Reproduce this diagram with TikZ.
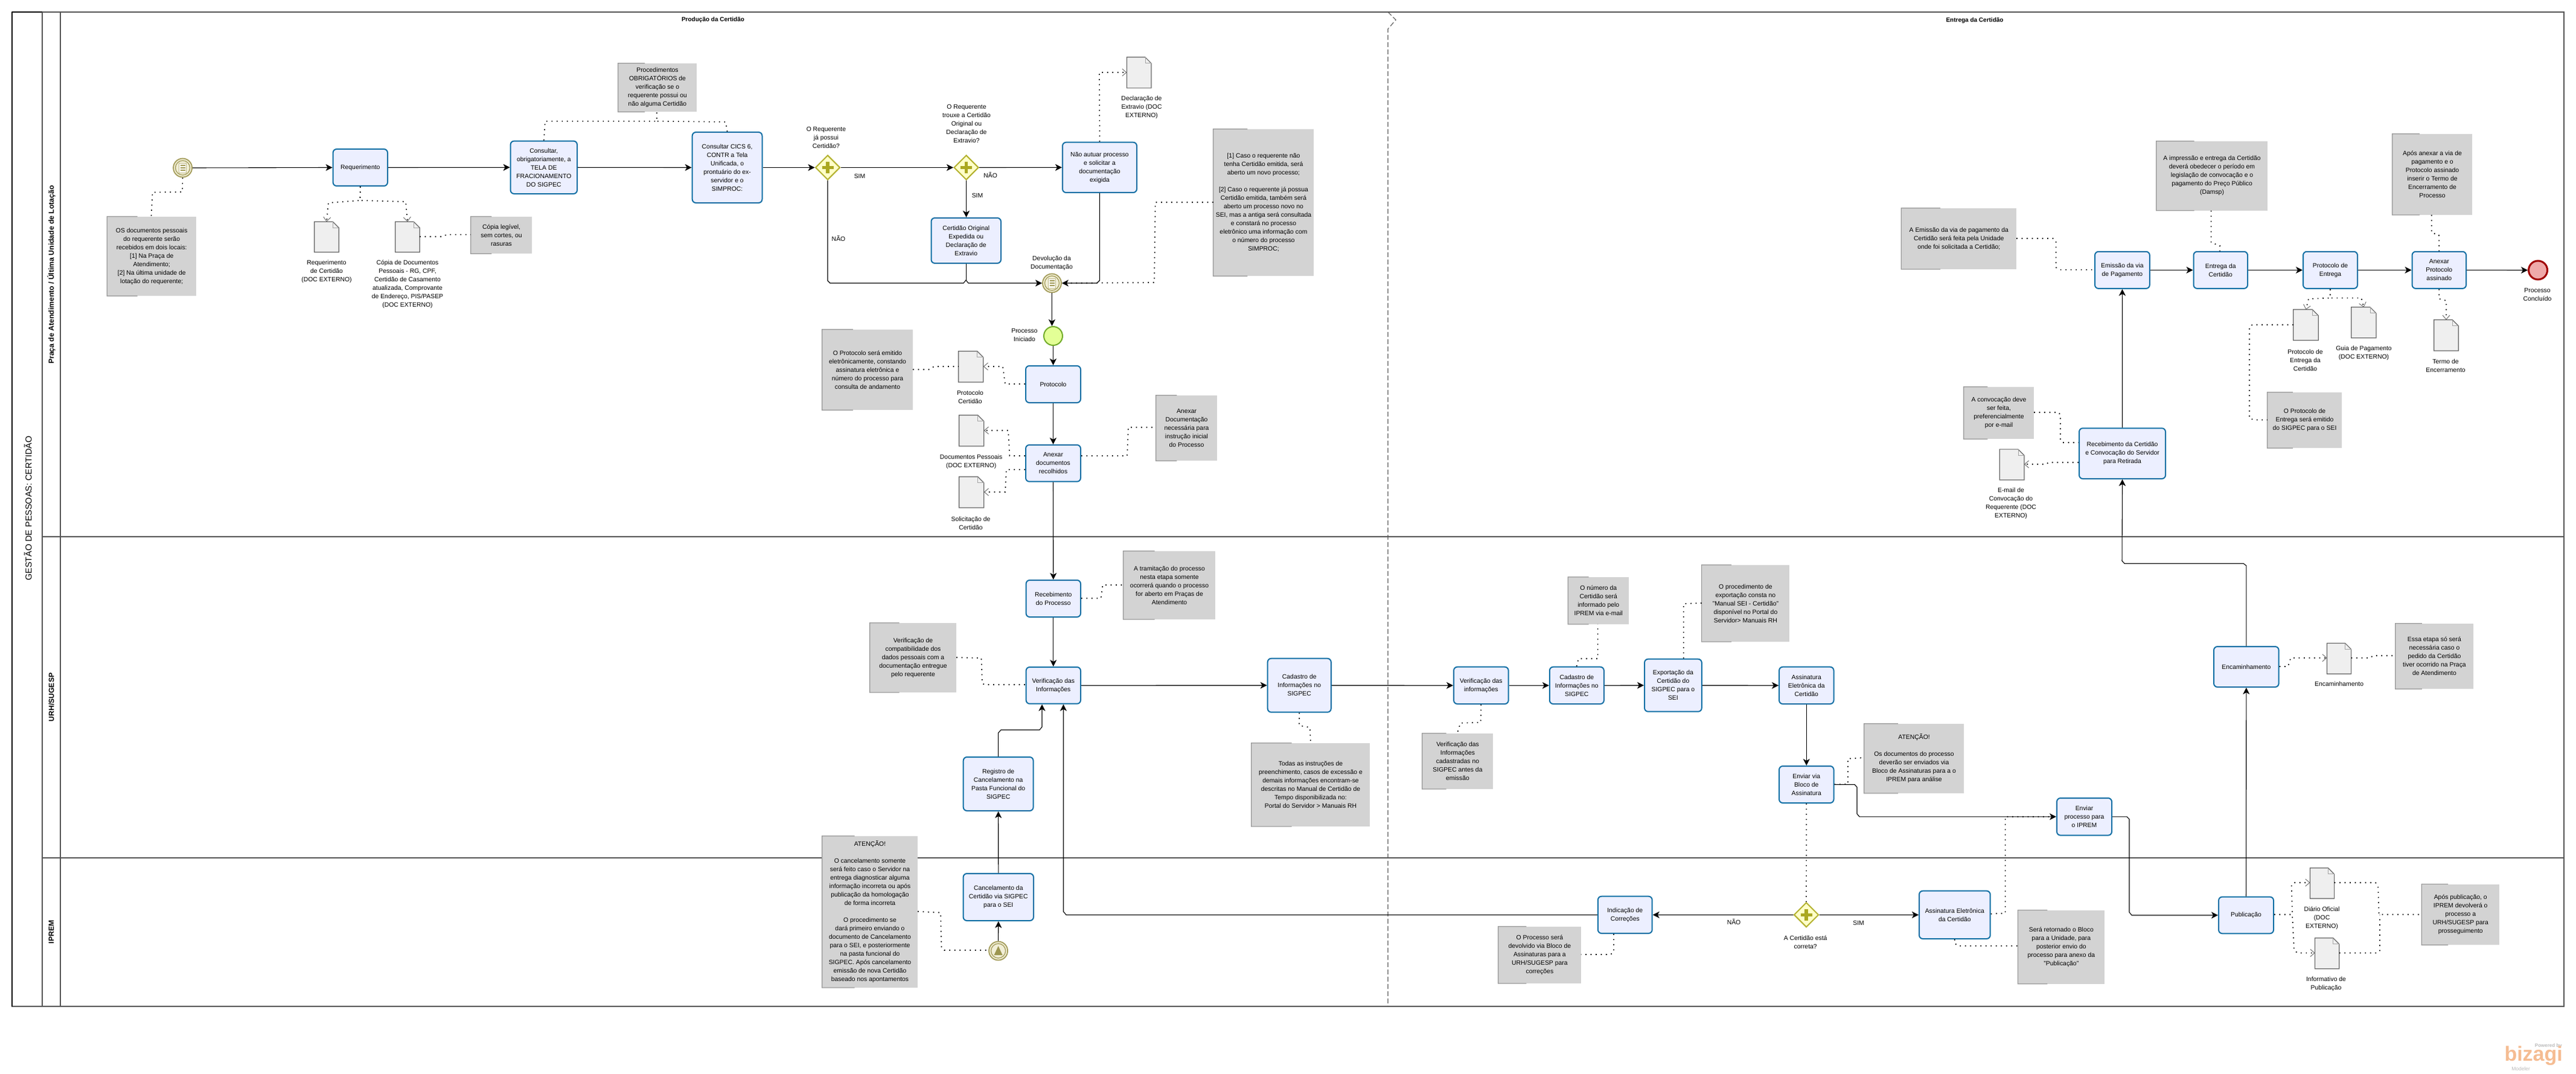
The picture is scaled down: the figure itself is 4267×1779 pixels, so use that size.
\documentclass[tikz,border=0pt]{standalone}
\usepackage{fontspec}
\setmainfont{Liberation Sans}
\usetikzlibrary{shapes.geometric,calc,arrows.meta}
\definecolor{taskfill}{HTML}{ECEFFF}
\definecolor{taskline}{HTML}{1270A5}
\definecolor{notefill}{HTML}{D3D3D3}
\definecolor{noteline}{HTML}{999999}
\definecolor{docfill}{HTML}{EFEFEF}
\definecolor{docline}{HTML}{666666}
\definecolor{gwfill}{HTML}{FFFFC8}
\definecolor{gwline}{HTML}{B3B12E}
\definecolor{gwplus}{HTML}{ABA821}
\definecolor{evfill}{HTML}{F1EED6}
\definecolor{evline}{HTML}{A39C5A}
\definecolor{evglyph}{HTML}{9C9650}
\definecolor{startfill}{HTML}{E3FF96}
\definecolor{startline}{HTML}{72AC2A}
\definecolor{endfill}{HTML}{EFA9A9}
\definecolor{endline}{HTML}{A00000}
\definecolor{frameline}{HTML}{555555}
\definecolor{bizorange}{HTML}{F5BC92}
\definecolor{bizgrey}{HTML}{BBBBBB}
\tikzset{
  base font/.style={font=\fontsize{10.4}{14}\selectfont,align=center,inner sep=0pt},
  taskbox/.style={base font,rectangle,rounded corners=6pt,draw=taskline,line width=2pt,fill=taskfill},
  notebox/.style={base font,rectangle,fill=notefill},
  bracket/.style={draw=noteline,line width=1.2pt},
  lbl/.style={base font},
  seq/.style={draw=black,line width=1.1pt,-{Stealth[length=11pt,width=11pt,inset=3pt]}},
  seqplain/.style={draw=black,line width=1.1pt},
  assoc/.style={draw=black,line width=1.7pt,dash pattern=on 1.7pt off 6.8pt},
  assocdoc/.style={assoc,-{Straight Barb[length=7pt,width=12pt,line width=0.9pt,color=docline]}},
  framing/.style={draw=frameline,line width=1.3pt},
  gwbox/.style={diamond,aspect=1,draw=gwline,line width=2pt,fill=gwfill,inner sep=0pt,minimum size=41pt},
  evbox/.style={circle,draw=evline,line width=1.8pt,fill=evfill,inner sep=0pt,minimum size=31pt},
}
\newcommand{\tk}[6]{\node[taskbox,minimum width={#4-#2},minimum height={#5-#3}] (#1) at ({(#2+#4)/2},{(#3+#5)/2}) {#6};}
\newcommand{\nt}[6]{\node[notebox,minimum width={#4-#2},minimum height={#5-#3}] (#1) at ({(#2+#4)/2},{(#3+#5)/2}) {#6};
  \draw[bracket] ($(#1.north west)!.34!(#1.north east)$) -- (#1.north west) -- (#1.south west) -- ($(#1.south west)!.34!(#1.south east)$);}
\newcommand{\dc}[5]{\node[minimum width={#4-#2},minimum height={#5-#3},inner sep=0pt] (#1) at ({(#2+#4)/2},{(#3+#5)/2}) {};
  \draw[draw=docline,fill=docfill,line width=1.2pt] (#1.north west) -- ([xshift=-10pt]#1.north east) -- ([yshift=-10pt]#1.north east) -- (#1.south east) -- (#1.south west) -- cycle;
  \draw[draw=docline!60,line width=.8pt] ([xshift=-10pt]#1.north east) -- ([xshift=-10pt,yshift=-10pt]#1.north east) -- ([yshift=-10pt]#1.north east);}
\newcommand{\lb}[4]{\node[lbl] (#1) at (#2,#3) {#4};}
\newcommand{\gw}[3]{\node[gwbox] (#1) at (#2,#3) {};
  \draw[gwplus,line width=5.5pt] ($(#1.center)+(-9.5,0)$) -- ($(#1.center)+(9.5,0)$);
  \draw[gwplus,line width=5.5pt] ($(#1.center)+(0,-9.5)$) -- ($(#1.center)+(0,9.5)$);}
\newcommand{\evring}[3]{\node[evbox] (#1) at (#2,#3) {};
  \draw[evline,line width=1.3pt] (#1.center) circle (12pt);}
\newcommand{\evdoc}[3]{\evring{#1}{#2}{#3}
  \draw[draw=evline!70,fill=white!70!evfill,line width=.8pt] ($(#1.center)+(-6,-8)$) rectangle ($(#1.center)+(6,8)$);
  \draw[evline,line width=1.2pt] ($(#1.center)+(-4,-4)$) -- ($(#1.center)+(4,-4)$) ($(#1.center)+(-4,0)$) -- ($(#1.center)+(4,0)$) ($(#1.center)+(-4,4)$) -- ($(#1.center)+(4,4)$);}
\begin{document}
\begin{tikzpicture}[x=1pt,y=-1pt]
\useasboundingbox (0,0) rectangle (4267,1779);
% --- pool, lanes, phases
\coordinate (frameTL) at (20,20);
\coordinate (frameBR) at (4247,1667);
\draw[framing] (frameTL) rectangle (frameBR);
\draw[black,line width=1.8pt] (20,20) -- (20,1667) (20,20) -- (70,20);
\draw[framing] (70,20) -- (70,1667);
\draw[draw=frameline,line width=1.1pt] (100,20) -- (100,1667);
\draw[framing] (70,889) -- (4247,889) (70,1421) -- (4247,1421);
\draw[draw=frameline,line width=1.1pt,dash pattern=on 8pt off 4pt] (2299,20) -- (2312,33) -- (2299,48) -- (2299,1667);
\node[font=\fontsize{14.4}{16}\selectfont,rotate=90,inner sep=0pt] (pooltitle) at (46,842) {GESTÃO DE PESSOAS: CERTIDÃO};
\node[font=\bfseries\fontsize{12.2}{14}\selectfont,rotate=90,inner sep=0pt] (lane1) at (85,455) {Praça de Atendimento / Última Unidade de Lotação};
\node[font=\bfseries\fontsize{12.2}{14}\selectfont,rotate=90,inner sep=0pt] (lane2) at (85,1155) {URH/SUGESP};
\node[font=\bfseries\fontsize{12.2}{14}\selectfont,rotate=90,inner sep=0pt] (lane3) at (85,1544) {IPREM};
\node[font=\bfseries\fontsize{10}{12}\selectfont,inner sep=0pt] (phase1) at (1181,33) {Produção da Certidão};
\node[font=\bfseries\fontsize{10}{12}\selectfont,inner sep=0pt] (phase2) at (3271,34) {Entrega da Certidão};
% --- events
\evdoc{evA}{302.6}{278}
\evdoc{dev}{1742.5}{469}
\node[circle,draw=startline,line width=2pt,fill=startfill,inner sep=0pt,minimum size=31pt] (pini) at (1744.5,556.5) {};
\node[circle,draw=endline,line width=3pt,fill=endfill,inner sep=0pt,minimum size=31pt] (fim) at (4204,447.5) {};
\evring{evC}{1653.6}{1575}
\fill[evglyph] ($(evC.center)+(-7,7)$) -- ($(evC.center)+(7,7)$) -- ($(evC.center)+(0,-8)$) -- cycle;
% --- gateways
\gw{gwA}{1371}{277.5}
\gw{gwB}{1600.5}{277.5}
\gw{gwC}{2992}{1515.3}
% --- tasks, lane 1
\tk{req}{551.6}{247}{642}{308}{Requerimento}
\tk{consA}{845.6}{233.6}{956}{321}{Consultar,\\obrigatoriamente, a\\TELA DE\\FRACIONAMENTO\\DO SIGPEC}
\tk{consB}{1146.7}{219}{1262.5}{336}{Consultar CICS 6,\\CONTR a Tela\\Unificada, o\\prontuário do ex-\\servidor e o\\SIMPROC:}
\tk{naut}{1760}{235.7}{1883}{319}{Não autuar processo\\e solicitar a\\documentação\\exigida}
\tk{orig}{1542.5}{361}{1658}{436}{Certidão Original\\Expedida ou\\Declaração de\\Extravio}
\tk{prot}{1699}{606}{1790}{667}{Protocolo}
\tk{anx}{1699}{737}{1790}{797.7}{Anexar\\documentos\\recolhidos}
\tk{emi}{3470}{416.8}{3560.8}{477.9}{Emissão da via\\de Pagamento}
\tk{ent}{3633.5}{416.8}{3723}{477.9}{Entrega da\\Certidão}
\tk{pent}{3815}{416.8}{3905}{477.9}{Protocolo de\\Entrega}
\tk{anp}{3995.5}{416.8}{4085}{477.9}{Anexar\\Protocolo\\assinado}
\tk{rec}{3444}{709.3}{3587}{793}{Recebimento da Certidão\\e Convocação do Servidor\\para Retirada}
% --- tasks, lane 2
\tk{rcb}{1699.6}{961}{1790}{1022}{Recebimento\\do Processo}
\tk{vrf}{1699.6}{1105}{1790}{1165.7}{Verificação das\\Informações}
\tk{rgs}{1595.7}{1254}{1711.6}{1343}{Registro de\\Cancelamento na\\Pasta Funcional do\\SIGPEC}
\tk{cadA}{2099.7}{1090.7}{2204.8}{1179.7}{Cadastro de\\Informações no\\SIGPEC}
\tk{vrfB}{2408}{1104.7}{2498.6}{1166}{Verificação das\\informações}
\tk{cadB}{2566.8}{1104.7}{2656.8}{1166}{Cadastro de\\Informações no\\SIGPEC}
\tk{exp}{2724}{1091.7}{2818.8}{1178.7}{Exportação da\\Certidão do\\SIGPEC para o\\SEI}
\tk{asn}{2947}{1104.7}{3037.5}{1166}{Assinatura\\Eletrônica da\\Certidão}
\tk{env}{2947}{1269}{3037.5}{1330}{Enviar via\\Bloco de\\Assinatura}
\tk{enp}{3407}{1322}{3498}{1383.6}{Enviar\\processo para\\o IPREM}
\tk{enc}{3667}{1071}{3774.6}{1138}{Encaminhamento}
% --- tasks, lane 3
\tk{can}{1595.6}{1447}{1712}{1525}{Cancelamento da\\Certidão via SIGPEC\\para o SEI}
\tk{ind}{2646.8}{1484.7}{2736.7}{1546}{Indicação de\\Correções}
\tk{asB}{3179}{1475.7}{3296.7}{1555}{Assinatura Eletrônica\\da Certidão}
\tk{pub}{3675}{1485.6}{3766}{1546.3}{Publicação}
% --- documents
\dc{dReq}{521}{367.5}{561}{417.5}
\dc{dCop}{655}{367.5}{695}{417.5}
\dc{dDec}{1866.7}{95}{1906.7}{145.7}
\dc{dPro}{1588}{582}{1628.6}{632.7}
\dc{dPes}{1589}{688}{1629.6}{738.7}
\dc{dSol}{1589}{790}{1629.6}{840.7}
\dc{dPen}{3799}{513}{3840}{563.6}
\dc{dGui}{3895}{509}{3935.7}{559.6}
\dc{dTer}{4031.8}{530}{4072}{580.7}
\dc{dEma}{3312.5}{744.3}{3352.7}{794.7}
\dc{dEnc}{3854.7}{1065.7}{3894.4}{1116}
\dc{dDia}{3826.6}{1438}{3866.4}{1488}
\dc{dInf}{3834.8}{1554}{3874.6}{1604.5}
% --- annotations
\nt{nA}{177.5}{359}{325}{490}{OS documentos pessoais\\do requerente serão\\recebidos em dois locais:\\{[1]} Na Praça de\\Atendimento;\\{[2]} Na última unidade de\\lotação do requerente;}
\nt{nB}{780}{359}{881}{420}{Cópia legível,\\sem cortes, ou\\rasuras}
\nt{nC}{1024}{105}{1154}{185}{Procedimentos\\OBRIGATÓRIOS de\\verificação se o\\requerente possui ou\\não alguma Certidão}
\nt{nD}{2010}{214}{2176}{457}{{[1]} Caso o requerente não\\tenha Certidão emitida, será\\aberto um novo processo;\\ \\{[2]} Caso o requerente já possua\\Certidão emitida, também será\\aberto um processo novo no\\SEI, mas a antiga será consultada\\e constará no processo\\eletrônico uma informação com\\o número do processo\\SIMPROC;}
\nt{nE}{1362}{546}{1512}{679}{O Protocolo será emitido\\eletrônicamente, constando\\assinatura eletrônica e\\número do processo para\\consulta de andamento}
\nt{nF}{1915}{655}{2016}{763}{Anexar\\Documentação\\necessária para\\instrução inicial\\do Processo}
\nt{nG}{3149.5}{345}{3340}{445.7}{A Emissão da via de pagamento da\\Certidão será feita pela Unidade\\onde foi solicitada a Certidão;}
\nt{nH}{3572}{234}{3756}{348.6}{A impressão e entrega da Certidão\\deverá obedecer o período em\\legislação de convocação e o\\pagamento do Preço Público\\(Damsp)}
\nt{nI}{3963}{222}{4095}{355.7}{Após anexar a via de\\pagamento e o\\Protocolo assinado\\inserir o Termo de\\Encerramento de\\Processo}
\nt{nJ}{3756}{650}{3879}{742}{O Protocolo de\\Entrega será emitido\\do SIGPEC para o SEI}
\nt{nK}{3253}{641}{3369}{727}{A convocação deve\\ser feita,\\preferencialmente\\por e-mail}
\nt{nL}{1861}{913}{2013}{1025.7}{A tramitação do processo\\nesta etapa somente\\ocorrerá quando o processo\\for aberto em Praças de\\Atendimento}
\nt{nM}{1441}{1032}{1584}{1146.7}{Verificação de\\compatibilidade dos\\dados pessoais com a\\documentação entregue\\pelo requerente}
\nt{nN}{2073}{1231}{2269}{1368.7}{Todas as instruções de\\preenchimento, casos de excessão e\\demais informações encontram-se\\descritas no Manual de Certidão de\\Tempo disponibilizada no:\\Portal do Servidor > Manuais RH}
\nt{nO}{2356}{1215}{2473}{1306.7}{Verificação das\\Informações\\cadastradas no\\SIGPEC antes da\\emissão}
\nt{nP}{2597.5}{956}{2698}{1033.7}{O número da\\Certidão será\\informado pelo\\IPREM via e-mail}
\nt{nQ}{2818.8}{936}{2964}{1062.7}{O procedimento de\\exportação consta no\\"Manual SEI - Certidão"\\disponível no Portal do\\Servidor> Manuais RH}
\nt{nR}{3088}{1199}{3253}{1313.7}{ATENÇÃO!\\ \\Os documentos do processo\\deverão ser enviados via\\Bloco de Assinaturas para a o\\IPREM para análise}
\nt{nS}{3968}{1033}{4096.8}{1141}{Essa etapa só será\\necessária caso o\\pedido da Certidão\\tiver ocorrido na Praça\\de Atendimento}
\nt{nT}{1362}{1385}{1520}{1635.7}{ATENÇÃO!\\ \\O cancelamento somente\\será feito caso o Servidor na\\entrega diagnosticar alguma\\informação incorreta ou após\\publicação da homologação\\de forma incorreta\\ \\O procedimento se\\dará primeiro enviando o\\documento de Cancelamento\\para o SEI, e posteriormente\\na pasta funcional do\\SIGPEC. Após cancelamento\\emissão de nova Certidão\\baseado nos apontamentos}
\nt{nU}{2482}{1535}{2618.7}{1628.7}{O Processo será\\devolvido via Bloco de\\Assinaturas para a\\URH/SUGESP para\\correções}
\nt{nV}{3342.6}{1507.6}{3486}{1629.5}{Será retornado o Bloco\\para a Unidade, para\\posterior envio do\\processo para anexo da\\"Publicação"}
\nt{nW}{4011.4}{1464.7}{4140}{1565}{Após publicação, o\\IPREM devolverá o\\processo a\\URH/SUGESP para\\prosseguimento}
% --- free labels
\lb{lReq}{541}{450}{Requerimento\\de Certidão\\(DOC EXTERNO)}
\lb{lCop}{675}{471}{Cópia de Documentos\\Pessoais - RG, CPF,\\Certidão de Casamento\\atualizada, Comprovante\\de Endereço, PIS/PASEP\\(DOC EXTERNO)}
\lb{lGa}{1368.4}{228}{O Requerente\\já possui\\Certidão?}
\lb{lGb}{1601}{205}{O Requerente\\trouxe a Certidão\\Original ou\\Declaração de\\Extravio?}
\lb{lDec}{1891}{178}{Declaração de\\Extravio (DOC\\EXTERNO)}
\lb{lSimA}{1424}{292}{SIM}
\lb{lNaoB}{1640.7}{290}{NÃO}
\lb{lSimB}{1619}{324}{SIM}
\lb{lNaoA}{1389}{395}{NÃO}
\lb{lDev}{1742}{436}{Devolução da\\Documentação}
\lb{lIni}{1697}{555}{Processo\\Iniciado}
\lb{lPro}{1607}{658}{Protocolo\\Certidão}
\lb{lPes}{1608.7}{764.5}{Documentos Pessoais\\(DOC EXTERNO)}
\lb{lSol}{1608}{866.5}{Solicitação de\\Certidão}
\lb{lFim}{4203}{488.4}{Processo\\Concluído}
\lb{lPen}{3818.5}{596.4}{Protocolo de\\Entrega da\\Certidão}
\lb{lGui}{3915.5}{585.3}{Guia de Pagamento\\(DOC EXTERNO)}
\lb{lTer}{4051}{606}{Termo de\\Encerramento}
\lb{lEma}{3331}{834}{E-mail de\\Convocação do\\Requerente (DOC\\EXTERNO)}
\lb{lEnc}{3874.6}{1133}{Encaminhamento}
\lb{lDia}{3846}{1520.5}{Diário Oficial\\(DOC\\EXTERNO)}
\lb{lInf}{3853}{1630}{Informativo de\\Publicação}
\lb{lCor}{2990.6}{1561}{A Certidão está\\correta?}
\lb{lNaoC}{2872}{1527}{NÃO}
\lb{lSimC}{3078.6}{1529}{SIM}
% --- sequence flows
\draw[seq] (evA.east) -- (req.west);
\draw[seq] (req.east) -- (consA.west);
\draw[seq] (consA.east) -- (consB.west);
\draw[seq] (consB.east) -- (gwA.west);
\draw[seq] (gwA.east) -- (gwB.west);
\draw[seq] (gwB.east) -- (naut.west);
\draw[seq] (gwB.south) -- (orig.north -| gwB.south);
\draw[seq] (gwA.south) -- (gwA.south |- 0,465) -- (1375,469) -- (1596,469) -- (1600,464) -- (1604,469) -- (dev.west);
\draw[seqplain] (orig.south) -- (orig.south |- 0,464);
\draw[seq] (naut.south) -- (naut.south |- 0,464.5) -- (1817,469) -- (dev.east);
\draw[seq] (dev.south) -- (dev.south |- pini.north);
\draw[seq] (pini.south) -- (prot.north);
\draw[seq] (prot.south) -- (anx.north);
\draw[seq] (anx.south) -- (rcb.north);
\draw[seq] (rcb.south) -- (vrf.north);
\draw[seq] (vrf.east) -- (cadA.west);
\draw[seq] (cadA.east) -- (vrfB.west);
\draw[seq] (vrfB.east) -- (cadB.west);
\draw[seq] (cadB.east) -- (exp.west);
\draw[seq] (exp.east) -- (asn.west);
\draw[seq] (asn.south) -- (env.north);
\draw[seq] (env.east) -- (3072,1299.5) -- (3076,1304) -- (3076,1348) -- (3080,1352.8) -- (enp.west);
\draw[seq] (enp.east) -- (3523,1352.8) -- (3527,1357) -- (3527,1511) -- (3531,1516) -- (pub.west);
\draw[seq] (pub.north) -- (enc.south);
\draw[seq] (enc.north) -- (enc.north |- 0,937) -- (3716,933.3) -- (3519,933.3) -- (3515,929) -- (rec.south);
\draw[seq] (rec.north) -- (emi.south);
\draw[seq] (emi.east) -- (ent.west);
\draw[seq] (ent.east) -- (pent.west);
\draw[seq] (pent.east) -- (anp.west);
\draw[seq] (anp.east) -- (fim.west);
\draw[seq] (evC.north) -- (can.south);
\draw[seq] (can.north) -- (rgs.south);
\draw[seq] (rgs.north) -- (rgs.north |- 0,1214) -- (1658,1209) -- (1722,1209) -- (1726,1204) -- (1726,0 |- vrf.south);
\draw[seq] (gwC.west) -- (ind.east);
\draw[seq] (gwC.east) -- (asB.west);
\draw[seq] (ind.west) -- (1766,1515.3) -- (1761.5,1510) -- (1761.5,0 |- vrf.south);
% --- associations
\draw[assoc] (evA.south) -- (302,318) -- (252.6,318.5) -- (nA.north -| 250.5,0);
\draw[assocdoc] (req.south) -- (596.5,332) -- (544,336) -- (dReq.north);
\draw[assocdoc] (req.south) -- (596.5,332) -- (672,334) -- (dCop.north);
\draw[assoc] (dCop.east |- 0,392) -- (733,392) -- (740,388.6) -- (nB.west |- 0,388.6);
\draw[assoc] (consA.north) -- (903,200.7) -- (1088,200.7) -- (nC.south -| 1088,0);
\draw[assoc] (consB.north) -- (1202,202) -- (1088,200.7);
\draw[assoc] (nD.west |- 0,335) -- (1913.7,335) -- (1912,468) -- (dev.east);
\draw[assocdoc] (naut.north) -- (1821,120) -- (dDec.west |- 0,120);
\draw[assoc] (nE.east |- 0,612) -- (1540,612) -- (1547,607) -- (dPro.west |- 0,607);
\draw[assocdoc] (prot.west |- 0,636) -- (1665,636) -- (1661,607) -- (dPro.east |- 0,607);
\draw[assocdoc] (anx.west |- 0,755) -- (1672.4,755) -- (1670,713) -- (dPes.east |- 0,713);
\draw[assocdoc] (anx.west |- 0,777.7) -- (1667,777.7) -- (1665,815) -- (dSol.east |- 0,815);
\draw[assoc] (anx.east |- 0,755) -- (1867,755) -- (1869,707.7) -- (nF.west |- 0,707.7);
\draw[assoc] (rcb.east |- 0,991) -- (1823.6,991) -- (1826.5,969) -- (nL.west |- 0,969);
\draw[assoc] (nM.east |- 0,1089) -- (1625.5,1090) -- (1627,1132) -- (1631,1134) -- (vrf.west |- 0,1134);
\draw[assoc] (cadA.south) -- (2152,1201.7) -- (2169.7,1205) -- (nN.north -| 2171,0);
\draw[assoc] (nT.east |- 0,1509.7) -- (1558,1511.7) -- (1559.5,1570) -- (1564,1574) -- (evC.west |- 0,1574);
\draw[assoc] (vrfB.south) -- (2452.7,1196.7) -- (2419,1197.7) -- (nO.north -| 2413.8,0);
\draw[assoc] (cadB.north -| 2611.5,0) -- (2614.7,1091) -- (2646.6,1091) -- (nP.south -| 2646.6,0);
\draw[assoc] (exp.north -| 2788.8,0) -- (2788.8,1000) -- (nQ.west |- 0,999);
\draw[assoc] (env.east |- 0,1299.3) -- (3061,1299) -- (3061,1256.7) -- (nR.west |- 0,1255);
\draw[assoc] (env.south) -- (gwC.north);
\draw[assoc] (ind.south -| 2673,0) -- (2673,1576.7) -- (2668,1581) -- (nU.east |- 0,1581);
\draw[assoc] (asB.east |- 0,1513.7) -- (3321.6,1512.7) -- (3321.6,1352.7) -- (enp.west);
\draw[assoc] (asB.south) -- (3237,1561.7) -- (3243,1566.7) -- (nV.west |- 0,1566.7);
\draw[assoc] (nG.east |- 0,395) -- (3401.6,395) -- (3405.6,400) -- (3405.6,443) -- (3412,446.8) -- (emi.west |- 0,446.8);
\draw[assoc] (nH.south -| 3662.6,0) -- (3662.6,401.8) -- (3677,407) -- (ent.north -| 3677,0);
\draw[assoc] (nI.south -| 4027.8,0) -- (4027.8,385.7) -- (4040,389) -- (anp.north);
\draw[assocdoc] (pent.south) -- (3859.7,493.6) -- (3824,495) -- (dPen.north);
\draw[assocdoc] (pent.south) -- (3859.7,493.6) -- (3911.4,493.6) -- (dGui.north);
\draw[assocdoc] (anp.south) -- (4040,495) -- (4052,498) -- (dTer.north);
\draw[assoc] (dPen.west |- 0,537.9) -- (3731,537.9) -- (3726,541) -- (3726,693) -- (3733.7,695.4) -- (nJ.west |- 0,695.4);
\draw[assoc] (nK.east |- 0,682.9) -- (3409.7,682.9) -- (3413,687.5) -- (3413,729) -- (3417,733) -- (rec.west |- 0,733);
\draw[assocdoc] (rec.west |- 0,766) -- (3393,766) -- (3389.4,769) -- (dEma.east |- 0,769);
\draw[assocdoc] (enc.east |- 0,1104) -- (3790,1104) -- (3794.4,1089.7) -- (dEnc.west |- 0,1089.7);
\draw[assoc] (dEnc.east |- 0,1089.7) -- (3926,1089.7) -- (3930.7,1086) -- (nS.west |- 0,1086);
\draw[assocdoc] (pub.east |- 0,1514.7) -- (3797,1514.7) -- (3795.6,1466) -- (3800,1462) -- (dDia.west |- 0,1462);
\draw[assocdoc] (pub.east |- 0,1514.7) -- (3797,1514.7) -- (3800,1574.4) -- (3806,1578.5) -- (dInf.west |- 0,1578.5);
\draw[assoc] (dDia.east |- 0,1462) -- (3934.8,1462) -- (3939,1467) -- (3940.6,1514.7) -- (nW.west |- 0,1514.7);
\draw[assoc] (dInf.east |- 0,1578.5) -- (3937.7,1578.5) -- (3942,1574.4) -- (3942,1515.7);
% --- footer mark
\node[font=\bfseries\fontsize{8}{9}\selectfont,text=bizgrey,inner sep=0pt,anchor=east] (bizA) at (4244,1732) {Powered by};
\node[font=\bfseries\fontsize{34}{34}\selectfont,text=bizorange,inner sep=0pt,anchor=east] (bizB) at (4245,1749) {bizagi};
\node[font=\fontsize{8.5}{9}\selectfont,text=bizgrey,inner sep=0pt,anchor=west] (bizC) at (4160,1770) {Modeler};
\end{tikzpicture}
\end{document}
